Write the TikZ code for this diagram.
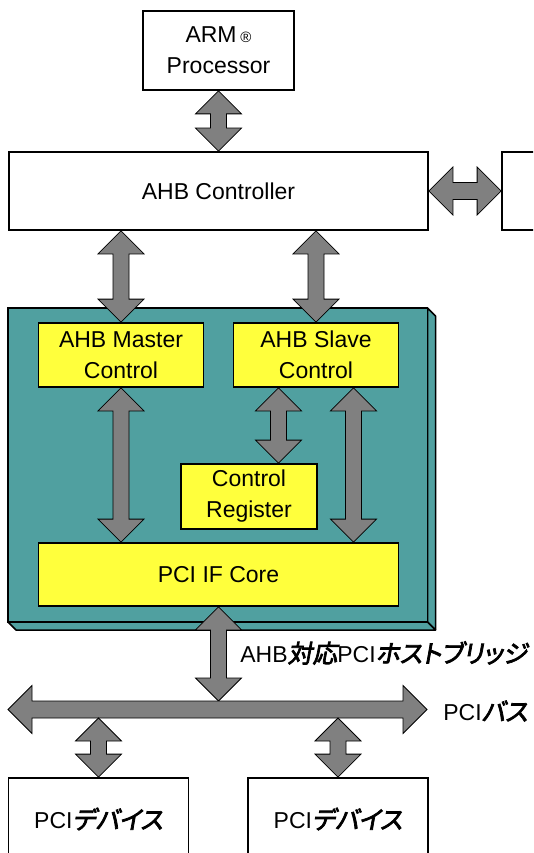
\documentclass[tikz,border=0pt]{standalone}
\usepackage{fontspec}
\setmainfont{Liberation Sans}
\newfontfamily\jp[FakeSlant=0.18,FakeBold=3,RawFeature=+palt,Scale=1.08]{Noto Sans CJK JP}
\usetikzlibrary{calc}
\definecolor{blk}{RGB}{80,160,160}
\definecolor{yel}{RGB}{255,255,60}
%% fat double arrows: vertical (top,bottom) and horizontal (left,right)
\newcommand\vfat[2]{\draw[pipe] let \p1=#1, \p2=#2 in
	(\x1,\y1) -- ({\x1+23pt},{\y1-23pt}) -- ({\x1+8pt},{\y1-23pt})
	-- ({\x1+8pt},{\y2+23pt}) -- ({\x1+23pt},{\y2+23pt}) -- (\x1,\y2)
	-- ({\x1-23pt},{\y2+23pt}) -- ({\x1-8pt},{\y2+23pt})
	-- ({\x1-8pt},{\y1-23pt}) -- ({\x1-23pt},{\y1-23pt}) -- cycle;}
\newcommand\hfat[2]{\draw[pipe] let \p1=#1, \p2=#2 in
	(\x1,\y1) -- ({\x1+24pt},{\y1+24pt}) -- ({\x1+24pt},{\y1+8.5pt})
	-- ({\x2-24pt},{\y1+8.5pt}) -- ({\x2-24pt},{\y1+24pt}) -- (\x2,\y1)
	-- ({\x2-24pt},{\y1-24pt}) -- ({\x2-24pt},{\y1-8.5pt})
	-- ({\x1+24pt},{\y1-8.5pt}) -- ({\x1+24pt},{\y1-24pt}) -- cycle;}

\begin{document}
\begin{tikzpicture}[x=1pt,y=-1pt,thick] %% tikz
		\tikzstyle{box}=[draw,line width=1.8pt,fill=white,inner sep=0pt,align=center,font=\fontsize{23}{31}\selectfont]
		\tikzstyle{ybox}=[box,fill=yel]
		\tikzstyle{pipe}=[draw,fill=gray,line width=.8pt,line join=miter]
		\useasboundingbox (0,0) rectangle (533,853);
		\clip (0,0) rectangle (533,853);
		%% top boxes
		\node[box,minimum width=151pt,minimum height=79pt] (arm) at (218.5,50.5) {ARM\,{\fontsize{15}{15}\selectfont ®}\\Processor};
		\node[box,minimum width=419pt,minimum height=78pt] (ctrl) at (218.5,191) {AHB Controller};
		\node[box,minimum width=138pt,minimum height=78pt] (ext) at (571,191) {};
		%% bridge block with depth
		\draw[fill=blk,line width=1.5pt,line join=round] (427.5,308) -- (435.5,316) -- (435.5,630) -- (427.5,622) -- cycle;
		\draw[fill=blk,line width=1.5pt,line join=round] (8,622) -- (427.5,622) -- (435.5,630) -- (16,630) -- cycle;
		\draw[fill=blk,line width=1.5pt] (8,308) rectangle (427.5,622);
		%% inner blocks
		\node[ybox,minimum width=165pt,minimum height=64pt] (master) at (121,355) {AHB Master\\Control};
		\node[ybox,minimum width=165pt,minimum height=64pt] (slave) at (316,355) {AHB Slave\\Control};
		\node[ybox,minimum width=136pt,minimum height=65pt] (creg) at (249,496.5) {Control\\Register};
		\node[ybox,minimum width=360pt,minimum height=63pt] (core) at (218.5,574.5) {PCI IF Core};
		%% pci devices
		\node[box,minimum width=180pt,minimum height=82pt] (dev1) at (98.5,819) {PCI{\jp デバイス}};
		\node[box,minimum width=180pt,minimum height=82pt] (dev2) at (338,819) {PCI{\jp デバイス}};
		%% labels
		\node[anchor=west,inner sep=0pt,font=\fontsize{23}{31}\selectfont] (brlbl) at (240,653) {AHB{\jp 対応}PCI{\jp ホストブリッジ}};
		\node[anchor=west,inner sep=0pt,font=\fontsize{23}{31}\selectfont] (buslbl) at (443,711) {PCI{\jp バス}};
		%% bus
		\coordinate (busL) at (8,709.5);
		\coordinate (busR) at (427,709.5);
		\coordinate (busT) at (0,701);
		\coordinate (busB) at (0,718);
		\coordinate (s1) at ([xshift=-37.5pt]slave.south);
		\coordinate (s2) at ([xshift=37.5pt]slave.south);
		%% arrows
		\vfat{(arm.south)}{(ctrl.north)}
		\hfat{(ctrl.east)}{(ext.west)}
		\vfat{(ctrl.south -| master.north)}{(master.north)}
		\vfat{(ctrl.south -| slave.north)}{(slave.north)}
		\vfat{(master.south)}{(master.south |- core.north)}
		\vfat{(s1)}{(s1 |- creg.north)}
		\vfat{(s2)}{(s2 |- core.north)}
		\vfat{(core.south)}{(core.south |- busT)}
		\hfat{(busL)}{(busR)}
		\vfat{(dev1.north |- busB)}{(dev1.north)}
		\vfat{(dev2.north |- busB)}{(dev2.north)}
	\end{tikzpicture}
\end{document}
